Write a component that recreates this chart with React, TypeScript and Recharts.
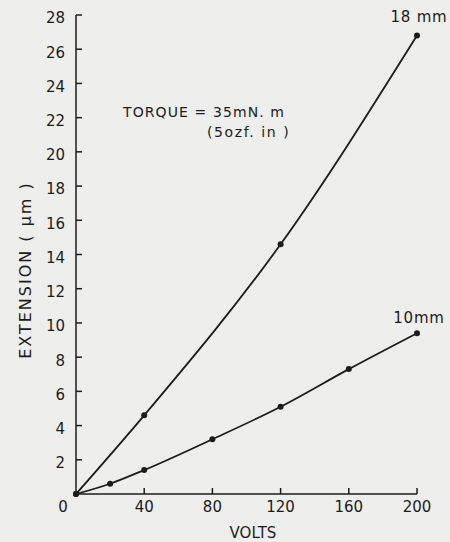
import { LineChart, Line, XAxis, YAxis, Customized, LabelList } from 'recharts';

// 18 mm specimen
const volts18 = [0, 40, 120, 200];
const ext18 = [0, 4.6, 14.6, 26.8];

// 10 mm specimen
const volts10 = [0, 20, 40, 80, 120, 160, 200];
const ext10 = [0, 0.6, 1.4, 3.2, 5.1, 7.3, 9.4];

const xTicks = [0, 40, 80, 120, 160, 200];
const yTicks = [2, 4, 6, 8, 10, 12, 14, 16, 18, 20, 22, 24, 26, 28];

const data18 = volts18.map((v, i) => ({ volts: v, ext: ext18[i] }));
const data10 = volts10.map((v, i) => ({ volts: v, ext: ext10[i] }));

const INK = '#1c1c1c';
const FONT = '"DejaVu Sans", sans-serif';

// tickSize 6 + tickMargin 4 => label anchor sits 10px off the axis line
const YTick = (props: any) => {
    const { x, y, payload } = props;
    return (
        <g>
            <line x1={x + 10} x2={x + 16} y1={y} y2={y} stroke={INK} strokeWidth={1.5} />
            <text x={x - 1} y={y + 3} dy="0.36em" textAnchor="end" fontSize={15} fontFamily={FONT} fill={INK}>
                {payload.value}
            </text>
        </g>
    );
};

const XTick = (props: any) => {
    const { x, y, payload } = props;
    const isZero = payload.value === 0;
    return (
        <g>
            {!isZero && <line x1={x} x2={x} y1={y - 10} y2={y - 16} stroke={INK} strokeWidth={1.5} />}
            <text x={isZero ? x - 13 : x} y={y - 3} dy="0.74em" textAnchor="middle" fontSize={15} fontFamily={FONT} fill={INK}>
                {payload.value}
            </text>
        </g>
    );
};

const endLabel = (name: string, last: number, dy: number) => (props: any) => {
    const { x, y, index } = props;
    if (index !== last) return null;
    return (
        <text x={x + 2} y={y + dy} textAnchor="middle" fontSize={15} letterSpacing={0.8} fontFamily={FONT} fill={INK}>
            {name}
        </text>
    );
};

const Annotations = () => (
    <g fontFamily={FONT} fill={INK}>
        <text x={123} y={117} fontSize={14} letterSpacing={1.1}>TORQUE = 35mN. m</text>
        <text x={207} y={137} fontSize={14} letterSpacing={1.6}>(5ozf. in )</text>
        <text x={253} y={538} fontSize={15} textAnchor="middle">VOLTS</text>
        <text x={31} y={270} fontSize={16} letterSpacing={2} textAnchor="middle" transform="rotate(-90 31 270)">
            EXTENSION ( μm )
        </text>
    </g>
);

export default function App() {
    return (
        <div style={{ position: 'absolute', top: 0, left: 0, width: 450, height: 542, background: '#eeeeec' }}>
            <LineChart width={450} height={542} margin={{ top: 15, right: 33, bottom: 8, left: 16 }}>
                <XAxis
                    dataKey="volts"
                    type="number"
                    domain={[0, 200]}
                    ticks={xTicks}
                    tickSize={6}
                    tickMargin={4}
                    tickLine={false}
                    tick={<XTick />}
                    axisLine={{ stroke: INK, strokeWidth: 1.5 }}
                    height={40}
                    allowDuplicatedCategory={false}
                />
                <YAxis
                    type="number"
                    domain={[0, 28]}
                    ticks={yTicks}
                    tickSize={6}
                    tickMargin={4}
                    tickLine={false}
                    tick={<YTick />}
                    axisLine={{ stroke: INK, strokeWidth: 1.5 }}
                    width={60}
                />
                <Line
                    data={data18}
                    dataKey="ext"
                    type="monotone"
                    stroke={INK}
                    strokeWidth={1.8}
                    dot={{ r: 3, fill: INK, stroke: INK, strokeWidth: 0 }}
                    isAnimationActive={false}
                >
                    <LabelList dataKey="ext" content={endLabel('18 mm', volts18.length - 1, -14)} />
                </Line>
                <Line
                    data={data10}
                    dataKey="ext"
                    type="monotone"
                    stroke={INK}
                    strokeWidth={1.8}
                    dot={{ r: 3, fill: INK, stroke: INK, strokeWidth: 0 }}
                    isAnimationActive={false}
                >
                    <LabelList dataKey="ext" content={endLabel('10mm', volts10.length - 1, -10)} />
                </Line>
                <Customized component={<Annotations />} />
            </LineChart>
        </div>
    );
}
